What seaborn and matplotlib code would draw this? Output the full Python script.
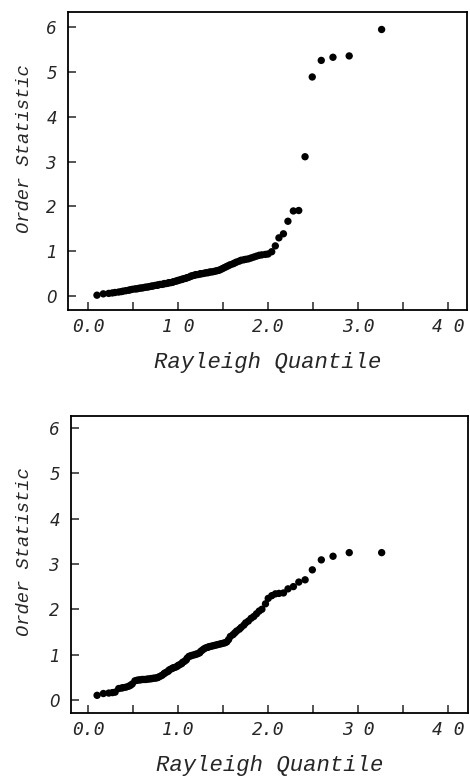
import matplotlib
matplotlib.use("Agg")
import matplotlib.pyplot as plt
import seaborn as sns
from matplotlib.ticker import MultipleLocator

# Rayleigh quantiles (same 100 plotting positions in both panels)
quantiles = [0.10, 0.17, 0.23, 0.27, 0.30, 0.34, 0.37, 0.39, 0.42, 0.45,
             0.47, 0.49, 0.52, 0.54, 0.56, 0.58, 0.60, 0.62, 0.64, 0.66,
             0.68, 0.70, 0.71, 0.73, 0.75, 0.77, 0.78, 0.80, 0.82, 0.84,
             0.85, 0.87, 0.89, 0.90, 0.92, 0.94, 0.95, 0.97, 0.99, 1.00,
             1.02, 1.04, 1.05, 1.07, 1.09, 1.10, 1.12, 1.14, 1.15, 1.17,
             1.19, 1.20, 1.22, 1.24, 1.25, 1.27, 1.29, 1.31, 1.33, 1.34,
             1.36, 1.38, 1.40, 1.42, 1.44, 1.46, 1.48, 1.50, 1.52, 1.54,
             1.56, 1.58, 1.61, 1.63, 1.65, 1.68, 1.70, 1.73, 1.75, 1.78,
             1.81, 1.84, 1.87, 1.90, 1.93, 1.97, 2.00, 2.04, 2.08, 2.12,
             2.17, 2.22, 2.28, 2.34, 2.41, 2.49, 2.59, 2.72, 2.90, 3.26]

order_top = [0.02, 0.05, 0.06, 0.07, 0.08, 0.09, 0.10, 0.11, 0.12, 0.13,
             0.14, 0.15, 0.16, 0.16, 0.17, 0.18, 0.18, 0.19, 0.20, 0.20,
             0.21, 0.22, 0.22, 0.23, 0.24, 0.24, 0.25, 0.26, 0.26, 0.27,
             0.28, 0.28, 0.29, 0.30, 0.30, 0.31, 0.32, 0.33, 0.34, 0.35,
             0.36, 0.37, 0.38, 0.39, 0.40, 0.41, 0.42, 0.44, 0.45, 0.46,
             0.47, 0.48, 0.48, 0.49, 0.50, 0.50, 0.51, 0.52, 0.52, 0.53,
             0.54, 0.54, 0.55, 0.56, 0.57, 0.58, 0.60, 0.62, 0.64, 0.66,
             0.68, 0.70, 0.72, 0.74, 0.76, 0.78, 0.80, 0.81, 0.82, 0.83,
             0.85, 0.87, 0.89, 0.91, 0.92, 0.93, 0.94, 0.99, 1.12, 1.30,
             1.39, 1.67, 1.90, 1.91, 3.11, 4.89, 5.26, 5.33, 5.36, 5.95]

order_bottom = [0.10, 0.14, 0.15, 0.16, 0.17, 0.25, 0.26, 0.27, 0.28, 0.30,
                0.32, 0.35, 0.42, 0.43, 0.44, 0.44, 0.45, 0.45, 0.45, 0.46,
                0.46, 0.47, 0.47, 0.48, 0.48, 0.49, 0.50, 0.52, 0.54, 0.57,
                0.59, 0.61, 0.63, 0.66, 0.68, 0.70, 0.71, 0.72, 0.74, 0.76,
                0.78, 0.80, 0.83, 0.85, 0.88, 0.92, 0.96, 0.97, 0.98, 0.99,
                1.00, 1.01, 1.02, 1.04, 1.07, 1.10, 1.13, 1.15, 1.16, 1.17,
                1.18, 1.19, 1.20, 1.21, 1.22, 1.23, 1.24, 1.25, 1.26, 1.28,
                1.33, 1.40, 1.44, 1.48, 1.52, 1.56, 1.60, 1.65, 1.70, 1.74,
                1.80, 1.84, 1.90, 1.96, 2.00, 2.12, 2.24, 2.30, 2.34, 2.35,
                2.36, 2.45, 2.50, 2.60, 2.65, 2.87, 3.09, 3.17, 3.25, 3.25]

xtick_vals = [0, 1, 2, 3, 4]
xticks_top = ["0.0", "1 0", "2.0", "3.0", "4 0"]
xticks_bottom = ["0.0", "1.0", "2.0", "3 0", "4 0"]
ytick_vals = [0, 1, 2, 3, 4, 5, 6]

sns.set_style("white")
plt.rcParams["font.family"] = ["DejaVu Sans"]

fig = plt.figure(figsize=(4.7, 7.8), dpi=100)
ax1 = fig.add_axes([0.145, 0.6026, 0.849, 0.382])
ax2 = fig.add_axes([0.151, 0.0859, 0.845, 0.381])

panels = [
    (ax1, order_top, xticks_top, (-0.22, 4.21), (-0.31, 6.34)),
    (ax2, order_bottom, xticks_bottom, (-0.19, 4.22), (-0.29, 6.27)),
]

for ax, yvals, xlabels, xl, yl in panels:
    sns.scatterplot(x=quantiles, y=yvals, ax=ax, color="black", s=28,
                    linewidth=0, edgecolor="none")
    ax.set_xlim(*xl)
    ax.set_ylim(*yl)
    ax.set_xticks(xtick_vals)
    ax.set_xticklabels(xlabels, family="DejaVu Sans Mono", style="italic",
                       fontsize=13)
    ax.xaxis.set_minor_locator(MultipleLocator(0.5))
    ax.set_yticks(ytick_vals)
    ax.set_yticklabels([str(v) for v in ytick_vals], style="italic",
                       fontsize=12)
    ax.tick_params(axis="x", which="both", direction="in", length=6,
                   width=1.1, pad=6, bottom=True)
    ax.tick_params(axis="y", direction="in", length=6, width=1.1, pad=8,
                   left=True)
    for sp in ax.spines.values():
        sp.set_linewidth(1.3)
        sp.set_color("black")
    ax.set_xlabel("Rayleigh Quantile", family="Liberation Mono",
                  style="italic", fontsize=16)
    ax.xaxis.label.set_va("center")
    ax.xaxis.set_label_coords(0.5, -0.175)
    ax.set_ylabel("Order Statistic", family="Liberation Mono",
                  style="italic", fontsize=13.5)
    ax.yaxis.label.set_va("center")

ax1.yaxis.set_label_coords(-0.110, 0.54)
ax2.yaxis.set_label_coords(-0.118, 0.542)

fig.savefig("out.png", dpi=100)
